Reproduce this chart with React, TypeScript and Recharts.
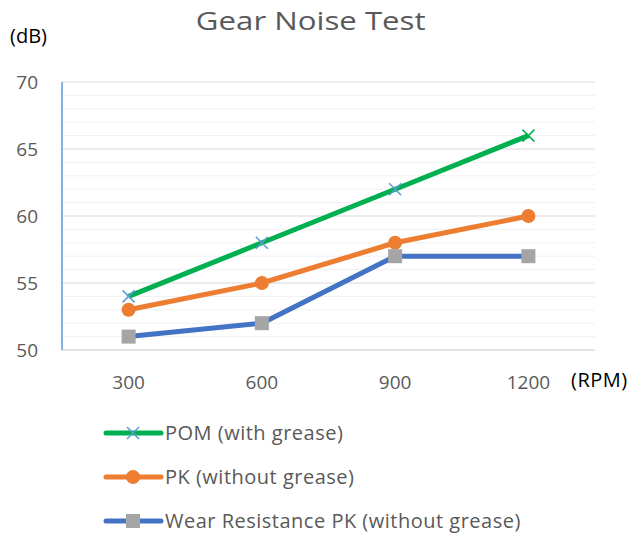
import React from 'react';
import {
  LineChart,
  Line,
  XAxis,
  YAxis,
  CartesianGrid,
  ReferenceLine,
} from 'recharts';

const rpmLabels = ['300', '600', '900', '1200'];
const pomWithGrease = [54, 58, 62, 66];
const pkWithoutGrease = [53, 55, 58, 60];
const wearResistancePk = [51, 52, 57, 57];
const yTicks = [50, 55, 60, 65, 70];
const minorTicks = [51, 52, 53, 54, 56, 57, 58, 59, 61, 62, 63, 64, 66, 67, 68, 69];

const data = rpmLabels.map((rpm, i) => ({
  rpm,
  pom: pomWithGrease[i],
  pk: pkWithoutGrease[i],
  wear: wearResistancePk[i],
}));

const FONT = '"Open Sans", sans-serif';
const TEXT = '#595959';
const GREEN = '#00B050';
const ORANGE = '#ED7D31';
const BLUE = '#4472C4';
const CROSS = '#5B9BD5';
const GRAY = '#A5A5A5';

const CrossDot = (props: any) => {
  const { cx, cy, index } = props;
  if (cx == null || cy == null) return null;
  const c = index === 3 ? GREEN : CROSS;
  const s = 6;
  return (
    <g key={`x-${index}`} stroke={c} strokeWidth={1.5}>
      <line x1={cx - s} y1={cy - s} x2={cx + s} y2={cy + s} />
      <line x1={cx - s} y1={cy + s} x2={cx + s} y2={cy - s} />
    </g>
  );
};

const CircleDot = (props: any) => {
  const { cx, cy, index } = props;
  if (cx == null || cy == null) return null;
  return <circle key={`c-${index}`} cx={cx} cy={cy} r={7} fill={ORANGE} />;
};

const SquareDot = (props: any) => {
  const { cx, cy, index } = props;
  if (cx == null || cy == null) return null;
  return <rect key={`s-${index}`} x={cx - 7} y={cy - 7} width={14} height={14} fill={GRAY} />;
};

const YTick = (props: any) => {
  const { x, y, payload } = props;
  return (
    <text x={x - 16} y={y} textAnchor="end" dominantBaseline="central" fill={TEXT} fontSize={19} fontFamily={FONT}>
      {payload.value}
    </text>
  );
};

const XTick = (props: any) => {
  const { x, y, payload } = props;
  return (
    <text x={x} y={y + 24} textAnchor="middle" dominantBaseline="central" fill={TEXT} fontSize={19} fontFamily={FONT}>
      {payload.value}
    </text>
  );
};

const legendItems = [
  { name: 'POM (with grease)', color: GREEN, marker: 'cross' },
  { name: 'PK (without grease)', color: ORANGE, marker: 'circle' },
  { name: 'Wear Resistance PK (without grease)', color: BLUE, marker: 'square' },
];

const ChartLegend = () => (
  <div
    style={{
      position: 'absolute',
      left: 103,
      top: 422,
      fontFamily: FONT,
      fontSize: 20,
      letterSpacing: 0.5,
      color: TEXT,
    }}
  >
    {legendItems.map((it) => (
      <div key={it.name} style={{ display: 'flex', alignItems: 'center', height: 22, marginBottom: 22 }}>
        <svg width={62} height={20} style={{ flex: 'none' }}>
          <line x1={3} y1={10} x2={58} y2={10} stroke={it.color} strokeWidth={5} strokeLinecap="round" />
          {it.marker === 'cross' && (
            <g stroke={CROSS} strokeWidth={1.5}>
              <line x1={24} y1={4} x2={36} y2={16} />
              <line x1={24} y1={16} x2={36} y2={4} />
            </g>
          )}
          {it.marker === 'circle' && <circle cx={30} cy={10} r={7} fill={ORANGE} />}
          {it.marker === 'square' && <rect x={23} y={3} width={14} height={14} fill={GRAY} />}
        </svg>
        <span style={{ whiteSpace: 'nowrap', lineHeight: '22px' }}>{it.name}</span>
      </div>
    ))}
  </div>
);

export default function App() {
  return (
    <div style={{ position: 'absolute', left: 0, top: 0, width: 634, height: 535, background: '#fff', fontFamily: FONT, overflow: 'hidden' }}>
      <div style={{ position: 'absolute', left: 0, width: 622, top: 2, textAlign: 'center', color: TEXT }}>
        <span style={{ display: 'inline-block', fontSize: 26, transform: 'scaleX(1.2)', transformOrigin: 'center' }}>
          Gear Noise Test
        </span>
      </div>
      <div style={{ position: 'absolute', left: 10, top: 22, fontSize: 20, color: '#000' }}>(dB)</div>
      <div style={{ position: 'absolute', left: 571, top: 366, fontSize: 20, letterSpacing: 0.5, color: '#000' }}>(RPM)</div>
      <div style={{ position: 'absolute', left: 0, top: 0 }}>
        <LineChart
          width={634}
          height={535}
          data={data}
          margin={{ top: 82, right: 39, bottom: 155, left: 12 }}
        >
          <CartesianGrid vertical={false} stroke="#D9D9D9" strokeWidth={1} />
          {minorTicks.map((v) => (
            <ReferenceLine key={v} y={v} stroke="#F0F0F0" strokeWidth={1} ifOverflow="hidden" />
          ))}
          <XAxis
            dataKey="rpm"
            padding={{ left: 66.6, right: 66.6 }}
            axisLine={{ stroke: '#D9D9D9' }}
            tickLine={false}
            tick={<XTick />}
            height={30}
          />
          <YAxis
            width={50}
            domain={[50, 70]}
            ticks={yTicks}
            interval={0}
            axisLine={{ stroke: CROSS, strokeWidth: 1.5 }}
            tickLine={false}
            tick={<YTick />}
          />
          <Line
            dataKey="pom"
            name="POM (with grease)"
            stroke={GREEN}
            strokeWidth={5}
            dot={<CrossDot />}
            activeDot={false}
            isAnimationActive={false}
          />
          <Line
            dataKey="pk"
            name="PK (without grease)"
            stroke={ORANGE}
            strokeWidth={5}
            dot={<CircleDot />}
            activeDot={false}
            isAnimationActive={false}
          />
          <Line
            dataKey="wear"
            name="Wear Resistance PK (without grease)"
            stroke={BLUE}
            strokeWidth={5}
            dot={<SquareDot />}
            activeDot={false}
            isAnimationActive={false}
          />
        </LineChart>
      </div>
      <ChartLegend />
    </div>
  );
}
